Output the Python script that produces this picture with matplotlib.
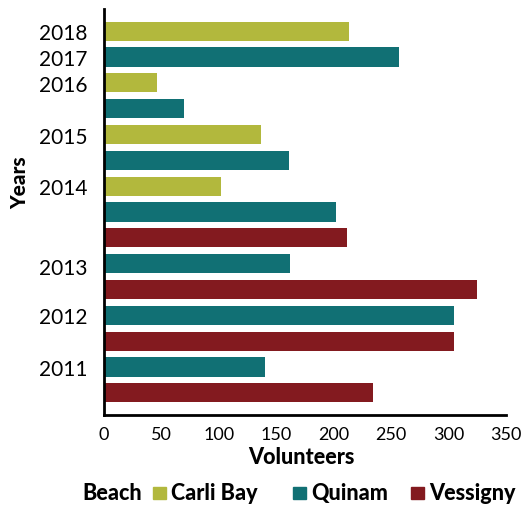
import matplotlib.pyplot as plt
from matplotlib.patches import Rectangle

# bars from top to bottom, one row each
BEACHES = ["Carli Bay", "Quinam", "Carli Bay", "Quinam", "Carli Bay", "Quinam",
           "Carli Bay", "Quinam", "Vessigny", "Quinam", "Vessigny", "Quinam",
           "Vessigny", "Quinam", "Vessigny"]
VOLUNTEERS = [213, 257, 46, 70, 137, 161, 102, 202, 212, 162, 325, 305, 305, 140, 234]

YEAR_LABELS = ["2018", "2017", "2016", "2015", "2014", "2013", "2012", "2011"]
YEAR_ROWS = [0, 1, 2, 4, 6, 9.1, 11, 13]

LEGEND_NAMES = ["Carli Bay", "Quinam", "Vessigny"]
COLORS = {"Carli Bay": "#b2b83d", "Quinam": "#117074", "Vessigny": "#831a1f"}

plt.rcParams['font.family'] = ['Lato', 'DejaVu Sans']

W, H = 529, 506
fig = plt.figure(figsize=(W / 100, H / 100), dpi=100)
ax = fig.add_axes([104 / W, 1 - 416 / H, 402 / W, 406 / H])

rows = list(range(len(VOLUNTEERS)))
ax.barh(rows, VOLUNTEERS, height=0.74, color=[COLORS[b] for b in BEACHES])

ax.set_xlim(0, 350)
ax.set_ylim(len(rows) - 1 + 0.86, -0.86)
ax.set_xticks([0, 50, 100, 150, 200, 250, 300, 350])
ax.set_yticks(YEAR_ROWS)
ax.set_yticklabels(YEAR_LABELS)
ax.tick_params(axis='y', length=0, pad=12, labelsize=15)
ax.tick_params(axis='x', length=0, pad=8, labelsize=13)

for side in ["top", "right"]:
    ax.spines[side].set_visible(False)
for side in ["left", "bottom"]:
    ax.spines[side].set_linewidth(2)
    ax.spines[side].set_color("black")

ax.set_xlabel("Volunteers", fontsize=15.5, fontweight='black')
ax.xaxis.set_label_coords(0.49, -0.076)
ax.set_ylabel("Years", fontsize=15, fontweight='black')
ax.yaxis.set_label_coords(-0.185, 0.574)

# legend drawn by hand so the spacing follows the original
ly = 1 - 494 / H
fig.text(82 / W, ly, "Beach", fontsize=15.5, fontweight='black', va='center')
for name, sx in zip(LEGEND_NAMES, [153, 293, 411]):
    fig.patches.append(Rectangle((sx / W, 1 - 500 / H), 12.5 / W, 12.5 / H,
                                 color=COLORS[name], transform=fig.transFigure))
    fig.text((sx + 18) / W, ly, name, fontsize=15.5, fontweight='black', va='center')

fig.savefig("out.png", dpi=100)
